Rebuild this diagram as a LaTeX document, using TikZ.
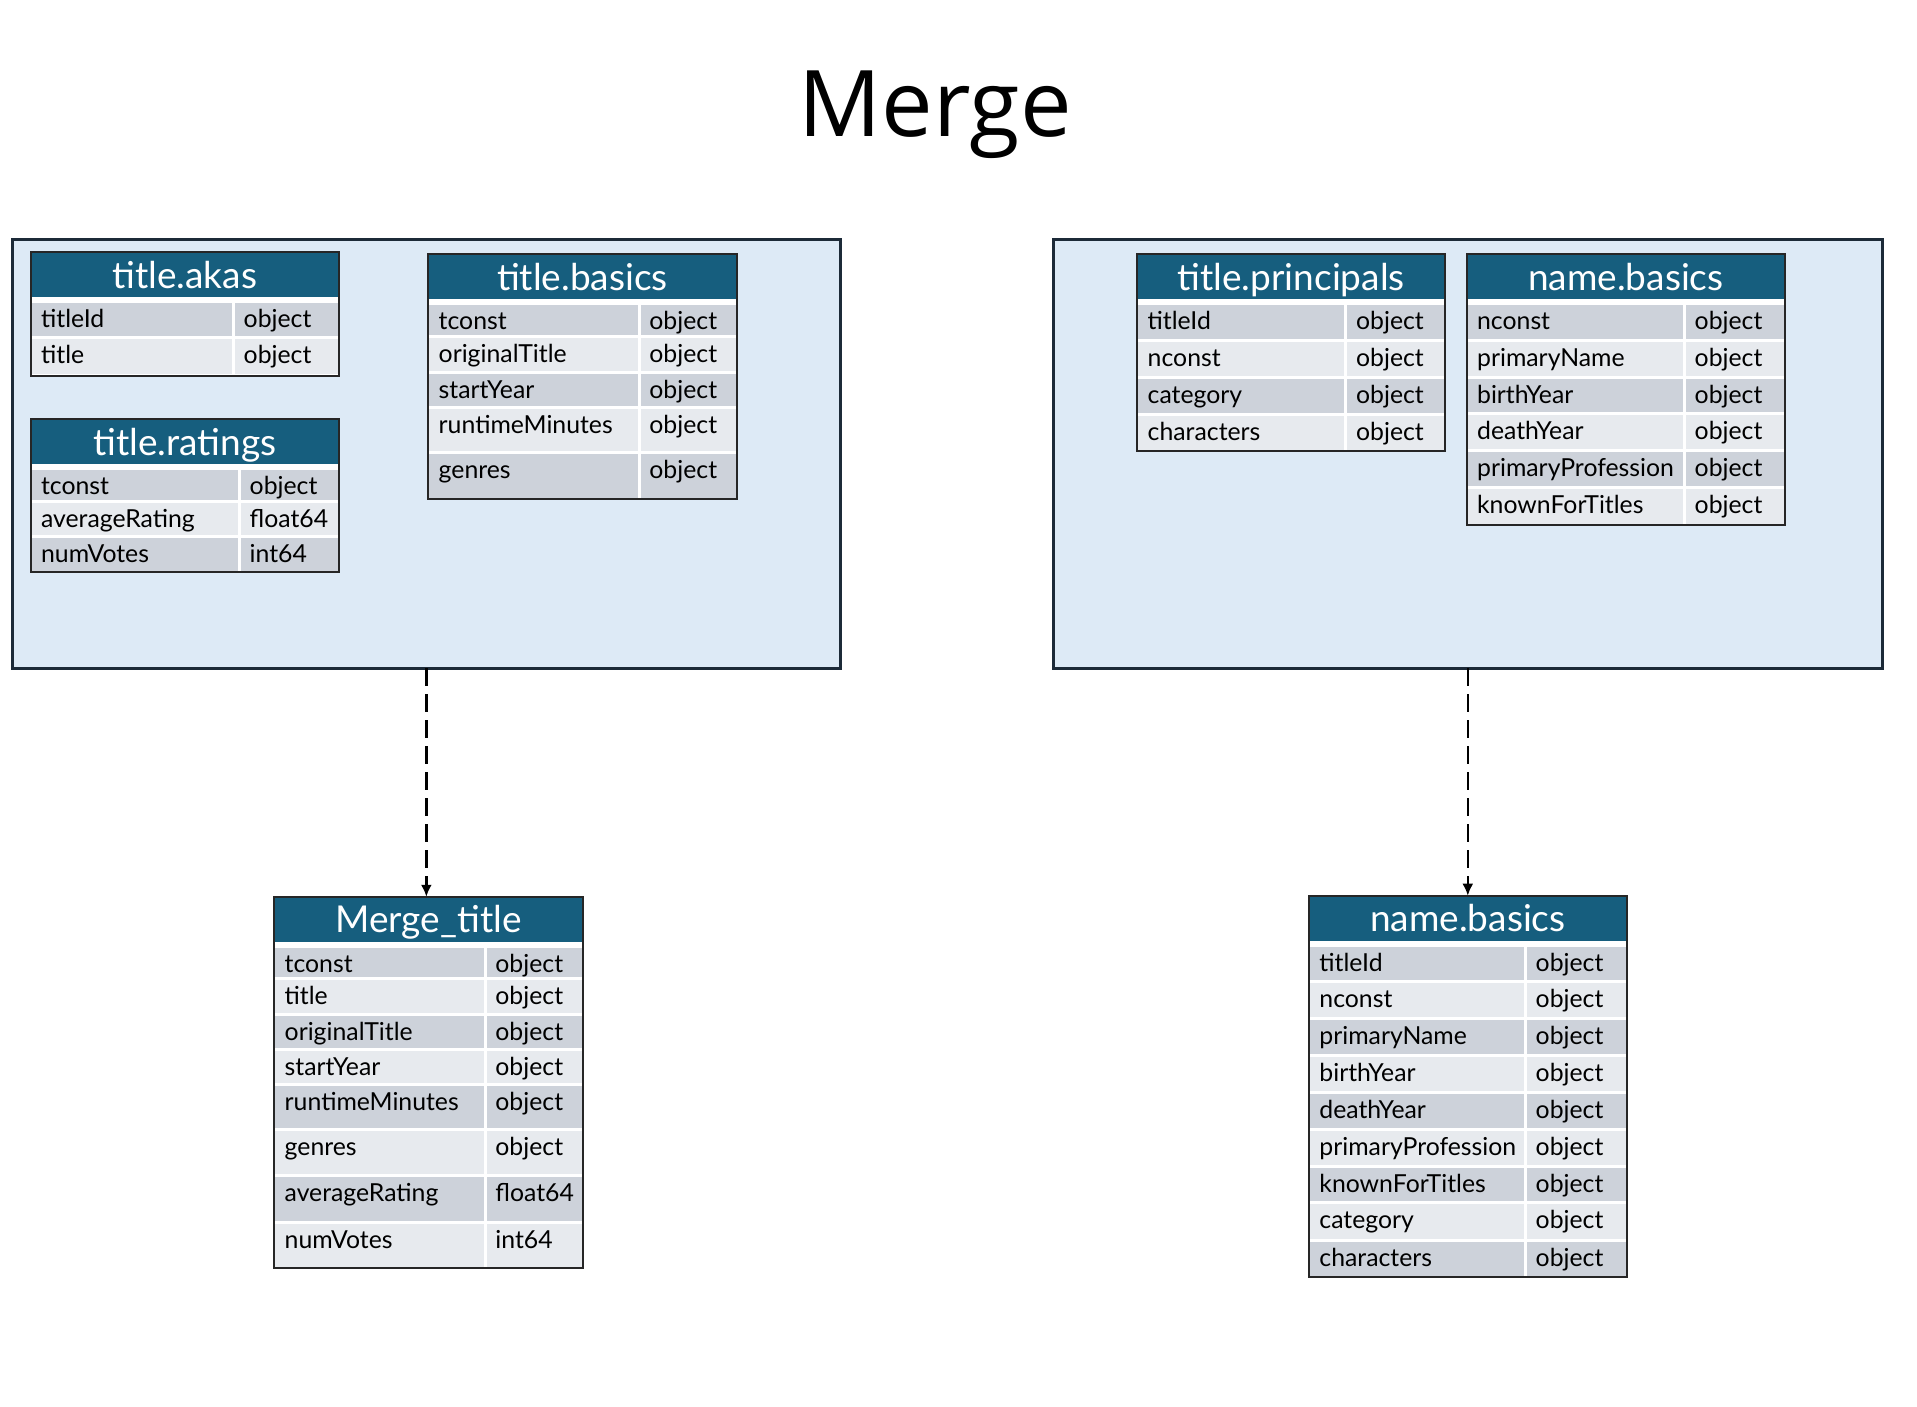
\documentclass[tikz,border=0pt]{standalone}
\usepackage{fontspec}
\setmainfont{Lato}
\newfontfamily\bigfont{Open Sans}
\usetikzlibrary{arrows.meta}

\definecolor{hdblue}{HTML}{165E7E}
\definecolor{rowdark}{HTML}{CDD2DA}
\definecolor{rowlight}{HTML}{E7EAEE}
\definecolor{grpfill}{HTML}{DDEAF6}
\definecolor{grpline}{HTML}{1C2A38}
\definecolor{tblline}{HTML}{262626}

\tikzset{
  grp/.style={draw=grpline, fill=grpfill, line width=1.5pt, inner sep=0pt, outer sep=0pt, anchor=north west},
  hdbox/.style={fill=hdblue, inner sep=0pt, outer sep=0pt, anchor=north west, minimum height=22.5pt},
  hdtxt/.style={text=white, inner sep=0pt, anchor=base, font=\fontsize{18.5}{20}\selectfont},
  fld/.style={inner sep=0pt, anchor=base west, font=\fontsize{12.4}{14}\selectfont},
  tblframe/.style={draw=tblline, line width=1pt},
  flow/.style={line width=1.3pt, dash pattern=on 9pt off 4pt, -{Latex[length=6pt,width=5.5pt]}}
}

% name, left, top, width, first column, title, rows
\newcommand{\dbtable}[7]{%
  \fill[white] (#2,#3) rectangle (#2+#4,#3+51);
  \node[hdbox, minimum width=#4*0.5pt] (#1) at (#2,#3) {};
  \node[hdtxt] (#1-title) at (#2+#4/2,#3+36) {#6};
  \pgfmathsetmacro\rowy{#3+49.5}
  \foreach \fname/\ftype/\fh [count=\i] in {#7}{
    \ifodd\i\relax\def\rowcol{rowdark}\else\def\rowcol{rowlight}\fi
    \fill[white] (#2,\rowy) rectangle (#2+#4,\rowy+\fh);
    \fill[\rowcol] (#2,\rowy+1.5) rectangle (#2+#5-1.5,\rowy+\fh-1.5);
    \fill[\rowcol] (#2+#5+1.5,\rowy+1.5) rectangle (#2+#4,\rowy+\fh-1.5);
    \node[fld] (#1-f\i) at (#2+10,\rowy+26) {\fname};
    \node[fld] (#1-t\i) at (#2+#5+10,\rowy+26) {\ftype};
    \pgfmathsetmacro\ynext{\rowy+\fh}\global\let\rowy\ynext
  }
  \draw[tblframe] (#2,#3) rectangle (#2+#4,\rowy);
}

\begin{document}
\begin{tikzpicture}[x=0.5pt, y=-0.5pt]
\useasboundingbox (0,0) rectangle (1917,1407);

\node[anchor=base, inner sep=0pt, font=\bigfont\fontsize{46}{50}\selectfont] (heading) at (935,137) {Merge};

% the two groups
\node[grp, minimum width=414.35pt, minimum height=214pt] (titlegrp) at (12,240) {};
\node[grp, minimum width=414.5pt, minimum height=214pt] (namegrp) at (1053.3,240) {};

% title tables
\dbtable{akas}{30.7}{252.3}{308.3}{202.6}{title.akas}{titleId/object/35.9, title/object/38}
\dbtable{ratings}{30.7}{419.3}{308.3}{208.6}{title.ratings}{tconst/object/32.9, averageRating/float64/35, numVotes/int64/35.6}
\dbtable{basics}{428.3}{254.3}{308.4}{210.7}{title.basics}{tconst/object/32.9, originalTitle/object/36, startYear/object/34.6, runtimeMinutes/object/45.4, genres/object/46.6}

% name tables
\dbtable{principals}{1137.3}{254.3}{307.7}{208.4}{title.principals}{titleId/object/36.2, nconst/object/37.3, category/object/36.7, characters/object/37}
\dbtable{namebasics}{1466.7}{254.3}{318.3}{217.6}{name.basics}{nconst/object/36.2, primaryName/object/37.3, birthYear/object/36, deathYear/object/37.4, primaryProfession/object/37, knownForTitles/object/37.3}

% results
\dbtable{mergetitle}{274.3}{896.8}{308.4}{210.7}{Merge\_title}{tconst/object/32, title/object/35.9, originalTitle/object/35, startYear/object/35.1, runtimeMinutes/object/44.9, genres/object/46.6, averageRating/float64/46.7, numVotes/int64/45.8}
\dbtable{mergename}{1309}{895.7}{317.7}{216.3}{name.basics}{titleId/object/36.5, nconst/object/36.6, primaryName/object/37.4, birthYear/object/36.6, deathYear/object/36.7, primaryProfession/object/37, knownForTitles/object/36.7, category/object/37.3, characters/object/37.3}

\draw[flow] (titlegrp.south) -- (titlegrp.south |- mergetitle.north);
\draw[flow] (namegrp.south) -- (namegrp.south |- mergename.north);
\end{tikzpicture}
\end{document}
